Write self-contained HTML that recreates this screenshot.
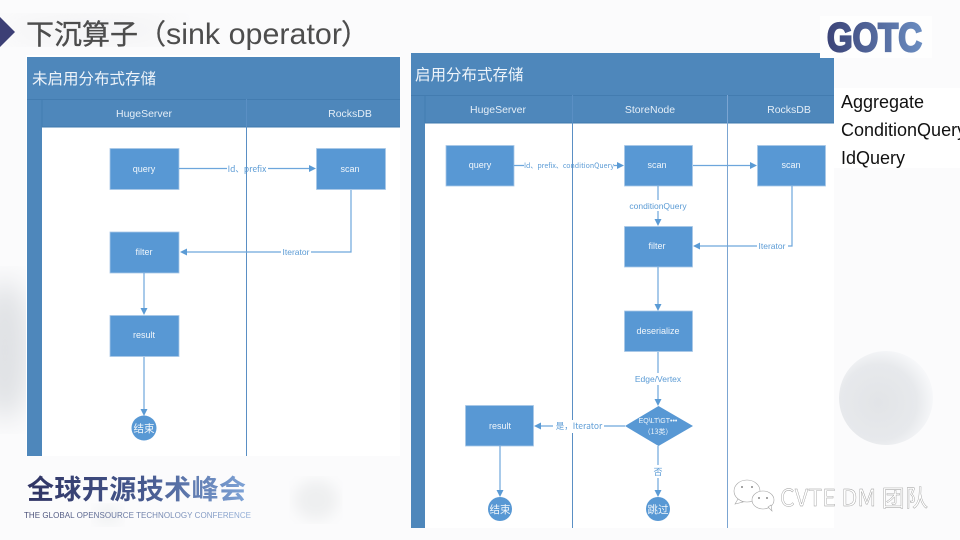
<!DOCTYPE html>
<html>
<head>
<meta charset="utf-8">
<style>
html,body{margin:0;padding:0;width:960px;height:540px;overflow:hidden;background:#fbfbfc}
svg{display:block}
text{font-family:"Liberation Sans","Noto Sans CJK SC",sans-serif}
.cn{font-family:"Noto Sans CJK SC","Liberation Sans",sans-serif}
.h{fill:#e4eef7;font-size:10.5px;text-anchor:middle}
.b{fill:#f0f6fb;font-size:9px;text-anchor:middle}
.l{fill:#5b9bd5;font-size:8.5px;text-anchor:middle}
.ln{stroke:#6da6dc;stroke-width:1.2;fill:none}
.box{fill:#5898d4;stroke:#a9c8e6;stroke-width:.8}
.ah{fill:#5b9bd5}
</style>
</head>
<body>
<svg width="960" height="540" viewBox="0 0 960 540" xmlns="http://www.w3.org/2000/svg">
<defs>
<radialGradient id="ball" cx="42%" cy="55%" r="58%"><stop offset="0" stop-color="#e2e4e7"/><stop offset=".7" stop-color="#e7e9ec"/><stop offset="1" stop-color="#f6f7f9"/></radialGradient>
<linearGradient id="logo" x1="0" x2="1"><stop offset="0" stop-color="#3c4478"/><stop offset="1" stop-color="#6a8cc0"/></linearGradient>
<linearGradient id="cnt" x1="0" x2="1"><stop offset="0" stop-color="#2f3363"/><stop offset=".55" stop-color="#475a90"/><stop offset="1" stop-color="#7ea3d6"/></linearGradient>
<linearGradient id="ent" x1="0" x2="1"><stop offset="0" stop-color="#4a4f77"/><stop offset="1" stop-color="#93afd8"/></linearGradient>
<filter id="bl"><feGaussianBlur stdDeviation="14"/></filter>
<filter id="bl2"><feGaussianBlur stdDeviation="7"/></filter>
</defs>

<rect width="960" height="540" fill="#fbfbfc"/>
<ellipse cx="5" cy="350" rx="26" ry="70" fill="#dfe1e4" filter="url(#bl)"/>
<ellipse cx="316" cy="500" rx="22" ry="20" fill="#eeeff0" filter="url(#bl2)"/>
<ellipse cx="108" cy="515" rx="14" ry="10" fill="#f1f2f3" filter="url(#bl2)"/>
<ellipse cx="90" cy="30" rx="90" ry="14" fill="#f3f3f4" filter="url(#bl)"/>

<!-- title -->
<polygon points="0,17 15,32 0,47" fill="#3c3f75"/>
<text x="26" y="44" class="cn" font-size="28" fill="#4d4d4d" stroke="#4d4d4d" stroke-width=".3">下沉算子（</text>
<text x="166" y="44" font-size="30" fill="#4d4d4d" textLength="176" lengthAdjust="spacingAndGlyphs">sink operator</text>
<text x="341" y="44" class="cn" font-size="28" fill="#4d4d4d" stroke="#4d4d4d" stroke-width=".3">）</text>

<!-- left diagram -->
<rect x="26" y="55" width="374" height="401" fill="#fff"/>
<rect x="27" y="57" width="373" height="399" fill="#fff"/>
<rect x="27" y="57" width="373" height="70" fill="#4e87bb"/>
<rect x="27" y="57" width="15" height="399" fill="#4e87bb"/>
<path d="M27 99.500H400M42 100V127" stroke="#437cb0" fill="none"/>
<path d="M42 127H400" stroke="#3f78ad" stroke-width="1"/>
<path d="M246.500 99V456" stroke="#5a8fc4" stroke-width="1"/>
<text x="32" y="84" class="cn" font-size="15.500" fill="#eef4fa">未启用分布式存储</text>
<text x="144" y="117" class="h">HugeServer</text>
<text x="350" y="117" class="h">RocksDB</text>

<rect class="box" x="110" y="148.500" width="69" height="41"/>
<rect class="box" x="316.500" y="148.500" width="69" height="41"/>
<rect class="box" x="110" y="232" width="69" height="41"/>
<rect class="box" x="110" y="315.500" width="69" height="41"/>
<text x="144" y="172" class="b">query</text>
<text x="350" y="172" class="b">scan</text>
<text x="144" y="255" class="b">filter</text>
<text x="144" y="338" class="b">result</text>

<path class="ln" d="M179 168.500H310"/>
<polygon class="ah" points="316,168.500 309,165 309,172"/>
<rect x="227" y="162" width="41" height="13" fill="#fff"/>
<path d="M246.500 150V190" stroke="#5a8fc4" stroke-width="1"/>
<text x="247" y="172" class="l cn">Id、prefix</text>

<path class="ln" d="M351 190V252H186"/>
<polygon class="ah" points="180,252 187,248.500 187,255.500"/>
<rect x="281" y="246" width="30" height="12" fill="#fff"/>
<text x="296" y="255" class="l">Iterator</text>

<path class="ln" d="M144 273V309"/>
<polygon class="ah" points="144,315 140.500,308 147.500,308"/>
<path class="ln" d="M144 357V410"/>
<polygon class="ah" points="144,416 140.500,409 147.500,409"/>
<circle cx="144" cy="428" r="12.500" fill="#5898d4"/>
<text x="144" y="432" class="cn" font-size="10.500" fill="#f0f6fb" text-anchor="middle">结束</text>

<!-- right diagram -->
<rect x="411" y="53" width="423" height="475" fill="#fff"/>
<rect x="411" y="53" width="423" height="70" fill="#4e87bb"/>
<rect x="411" y="53" width="14" height="475" fill="#4e87bb"/>
<path d="M411 95.500H834M425 96V123" stroke="#437cb0" fill="none"/>
<path d="M425 123H834" stroke="#3f78ad" stroke-width="1"/>
<path d="M572.500 95V528" stroke="#5a8fc4" stroke-width="1"/>
<path d="M727.500 95V528" stroke="#7ba5d2" stroke-width="1"/>
<text x="415" y="80" class="cn" font-size="15.500" fill="#eef4fa">启用分布式存储</text>
<text x="498" y="113" class="h">HugeServer</text>
<text x="650" y="113" class="h">StoreNode</text>
<text x="789" y="113" class="h">RocksDB</text>

<rect class="box" x="446" y="145.500" width="68" height="40.500"/>
<rect class="box" x="624.500" y="145.500" width="68" height="40.500"/>
<rect class="box" x="757.500" y="145.500" width="68" height="40.500"/>
<rect class="box" x="624.500" y="226.500" width="68" height="40.500"/>
<rect class="box" x="624.500" y="311" width="68" height="40.500"/>
<rect class="box" x="465.500" y="405.500" width="68" height="40.500"/>
<polygon points="625,426 658.500,406 693,426 658.500,446" fill="#5898d4"/>
<text x="480" y="168" class="b">query</text>
<text x="657" y="168" class="b">scan</text>
<text x="791" y="168" class="b">scan</text>
<text x="657" y="249" class="b">filter</text>
<text x="658" y="334" class="b">deserialize</text>
<text x="500" y="429" class="b">result</text>
<text x="658" y="423" class="b" style="font-size:7px">EQ\LT\GT•••</text>
<text x="658" y="434" class="b cn" style="font-size:7px">（13类）</text>

<path class="ln" d="M514 165.500H618"/>
<polygon class="ah" points="624,165.500 617,162 617,169"/>
<rect x="524" y="160" width="90" height="11" fill="#fff"/>
<path d="M572.500 158V175" stroke="#5a8fc4" stroke-width="1"/>
<text x="569" y="168" class="l cn" style="font-size:7px">Id、prefix、conditionQuery</text>

<path class="ln" d="M693 165.500H751"/>
<polygon class="ah" points="757,165.500 750,162 750,169"/>

<path class="ln" d="M658 186V221"/>
<polygon class="ah" points="658,226 654.500,219 661.500,219"/>
<rect x="630" y="200" width="57" height="11" fill="#fff"/>
<text x="658" y="209" class="l">conditionQuery</text>

<path class="ln" d="M792 186V246H700"/>
<polygon class="ah" points="693,246 700,242.500 700,249.500"/>
<rect x="757" y="240" width="31" height="12" fill="#fff"/>
<text x="772" y="249" class="l">Iterator</text>

<path class="ln" d="M658 267V306"/>
<polygon class="ah" points="658,311 654.500,304 661.500,304"/>
<path class="ln" d="M658 352V400"/>
<polygon class="ah" points="658,406 654.500,399 661.500,399"/>
<rect x="635" y="373" width="47" height="12" fill="#fff"/>
<text x="658" y="382" class="l">Edge/Vertex</text>

<path class="ln" d="M625 426H540"/>
<polygon class="ah" points="534,426 541,422.500 541,429.500"/>
<rect x="553" y="420" width="51" height="13" fill="#fff"/>
<text x="579" y="429" class="l cn" style="font-size:8.500px">是，Iterator</text>

<path class="ln" d="M658 446V491"/>
<polygon class="ah" points="658,497 654.500,490 661.500,490"/>
<rect x="652" y="465" width="12" height="13" fill="#fff"/>
<text x="658" y="475" class="l cn" style="font-size:9px">否</text>
<circle cx="658" cy="509" r="12" fill="#5898d4"/>
<text x="658" y="513" class="cn" font-size="10.500" fill="#f0f6fb" text-anchor="middle">跳过</text>

<path class="ln" d="M500 446V491"/>
<polygon class="ah" points="500,497 496.500,490 503.500,490"/>
<circle cx="500" cy="509" r="12" fill="#5898d4"/>
<text x="500" y="513" class="cn" font-size="10.500" fill="#f0f6fb" text-anchor="middle">结束</text>

<!-- logo -->
<rect x="820" y="16" width="112" height="42" fill="#fefefe"/>
<text x="827" y="51" font-size="40" font-weight="bold" fill="url(#logo)" stroke="url(#logo)" stroke-width="2.200" textLength="95" lengthAdjust="spacingAndGlyphs">GOTC</text>

<!-- right list -->
<rect x="834" y="88" width="126" height="80" fill="#fff"/>
<text x="841" y="108" font-size="18" fill="#111">Aggregate</text>
<text x="841" y="136" font-size="18" fill="#111">ConditionQuery</text>
<text x="841" y="164" font-size="18" fill="#111">IdQuery</text>

<!-- ball -->
<circle cx="886" cy="398" r="47" fill="url(#ball)"/>

<!-- conference text -->
<text x="27" y="499" class="cn" font-size="27" font-weight="700" fill="url(#cnt)" textLength="219">全球开源技术峰会</text>
<text x="24" y="518" font-size="8" fill="url(#ent)" textLength="227">THE GLOBAL OPENSOURCE TECHNOLOGY CONFERENCE</text>

<!-- watermark -->
<g fill="#fff" stroke="#a5a5a5" stroke-width=".6">
<ellipse cx="747" cy="491" rx="13" ry="11"/>
<path d="M738 499l-3 5 8-2z"/>
<ellipse cx="763" cy="500" rx="11" ry="9"/>
<path d="M768 507l4 4-1-6z"/>
</g>
<g fill="#888"><circle cx="742" cy="487" r="1"/><circle cx="752" cy="487" r="1"/><circle cx="759" cy="498" r="1"/><circle cx="767" cy="498" r="1"/></g>
<text x="780" y="506" font-size="23" fill="#fff" stroke="#999" stroke-width=".4" class="cn" textLength="148">CVTE DM 团队</text>
</svg>
</body>
</html>
